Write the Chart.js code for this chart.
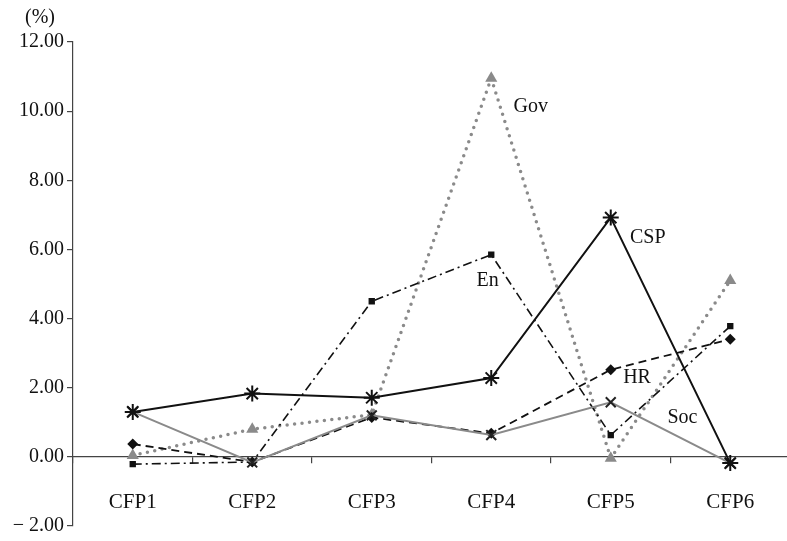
<!DOCTYPE html>
<html>
<head>
<meta charset="utf-8">
<script src="https://cdn.jsdelivr.net/npm/chart.js@4/dist/chart.umd.min.js"></script>
<style>
  html, body { margin: 0; padding: 0; background: #fff; overflow: hidden; }
  #wrap { position: relative; width: 800px; height: 541px; }
</style>
</head>
<body>
<div id="wrap"><canvas id="myChart"></canvas></div>
<script>
// datos
const categories = ['CFP1', 'CFP2', 'CFP3', 'CFP4', 'CFP5', 'CFP6'];
const cspValues = [1.30, 1.83, 1.71, 2.28, 6.92, -0.18];
const socValues = [1.30, -0.16, 1.20, 0.63, 1.58, -0.18];
const govValues = [0.04, 0.80, 1.22, 10.95, -0.04, 5.10];
const enValues = [-0.21, -0.15, 4.50, 5.85, 0.63, 3.78];
const hrValues = [0.37, -0.15, 1.14, 0.68, 2.52, 3.40];
const yTicks = [-2, 0, 2, 4, 6, 8, 10, 12];

// etiquetas de serie: [texto, posicion de categoria, valor]
const seriesLabels = [
    ['Gov', 3.33, 10.14],
    ['CSP', 4.31, 6.33],
    ['En', 2.97, 5.10],
    ['HR', 4.22, 2.29],
    ['Soc', 4.60, 1.12]
];

const FONT = '"Liberation Serif", "DejaVu Serif", serif';
const GRAY = '#8a8a8a';

let labelPlugin = {
    id: 'labelPlugin',
    afterDatasetsDraw(chart) {
        let ctx = chart.ctx;
        let x = chart.scales.x, y = chart.scales.y;
        ctx.save();
        ctx.fillStyle = '#111';
        ctx.font = '20px ' + FONT;
        ctx.textAlign = 'center';
        ctx.textBaseline = 'middle';
        seriesLabels.forEach(l => {
            ctx.fillText(l[0], x.getPixelForValue(l[1]), y.getPixelForValue(l[2]));
        });
        // unidad arriba del eje
        ctx.font = '20px ' + FONT;
        ctx.fillText('(%)', 40, y.top - 24);
        ctx.restore();
    }
};

let ctx = document.getElementById('myChart').getContext('2d');
let chart = new Chart(ctx, {
    type: 'line',
    data: {
        labels: categories,
        datasets: [
            {
                label: 'CSP', data: cspValues,
                borderColor: '#111', backgroundColor: '#111', borderWidth: 2,
                pointStyle: 'star', pointRadius: 8, pointBorderWidth: 2
            },
            {
                label: 'Soc', data: socValues,
                borderColor: GRAY, backgroundColor: GRAY, borderWidth: 2,
                pointStyle: 'crossRot', pointRadius: 7, pointBorderWidth: 2,
                pointBorderColor: '#222'
            },
            {
                label: 'En', data: enValues,
                borderColor: '#111', backgroundColor: '#111', borderWidth: 1.6,
                borderDash: [9, 4, 2, 4],
                pointStyle: 'rect', pointRadius: 4.5, pointBorderWidth: 0
            },
            {
                label: 'HR', data: hrValues,
                borderColor: '#111', backgroundColor: '#111', borderWidth: 1.8,
                borderDash: [8, 5],
                pointStyle: 'rectRot', pointRadius: 5.5, pointBorderWidth: 0
            },
            {
                label: 'Gov', data: govValues,
                borderColor: GRAY, backgroundColor: GRAY, borderWidth: 3.5,
                borderDash: [0, 7.5], borderCapStyle: 'round',
                pointStyle: 'triangle', pointRadius: 7, pointBorderWidth: 0
            }
        ]
    },
    options: {
        responsive: true,
        maintainAspectRatio: false,
        animation: false,
        layout: { padding: { left: 0, top: 42, right: 7, bottom: 10 } },
        plugins: {
            legend: { display: false },
            tooltip: { enabled: false }
        },
        elements: { line: { tension: 0 } },
        scales: {
            x: {
                type: 'category',
                position: { y: 0 },
                offset: true,
                afterFit: (s) => { s.height = 0; },
                border: { color: '#444', width: 1.2 },
                grid: {
                    offset: true, drawOnChartArea: false, drawTicks: true,
                    tickLength: 6, color: '#444', lineWidth: 1.2
                },
                ticks: {
                    color: '#111', padding: 27, maxRotation: 0,
                    font: { family: FONT, size: 21 }
                }
            },
            y: {
                min: -2, max: 12,
                afterFit: (s) => { s.width = 73; },
                afterBuildTicks: (s) => { s.ticks = yTicks.map(v => ({ value: v })); },
                border: { color: '#444', width: 1.2 },
                grid: {
                    drawOnChartArea: false, drawTicks: true,
                    tickLength: 6, color: '#444', lineWidth: 1.2
                },
                ticks: {
                    color: '#111', padding: 3,
                    font: { family: FONT, size: 20 },
                    callback: (v) => v < 0 ? '\u2212 ' + Math.abs(v).toFixed(2) : v.toFixed(2)
                }
            }
        }
    },
    plugins: [labelPlugin]
});
</script>
</body>
</html>
